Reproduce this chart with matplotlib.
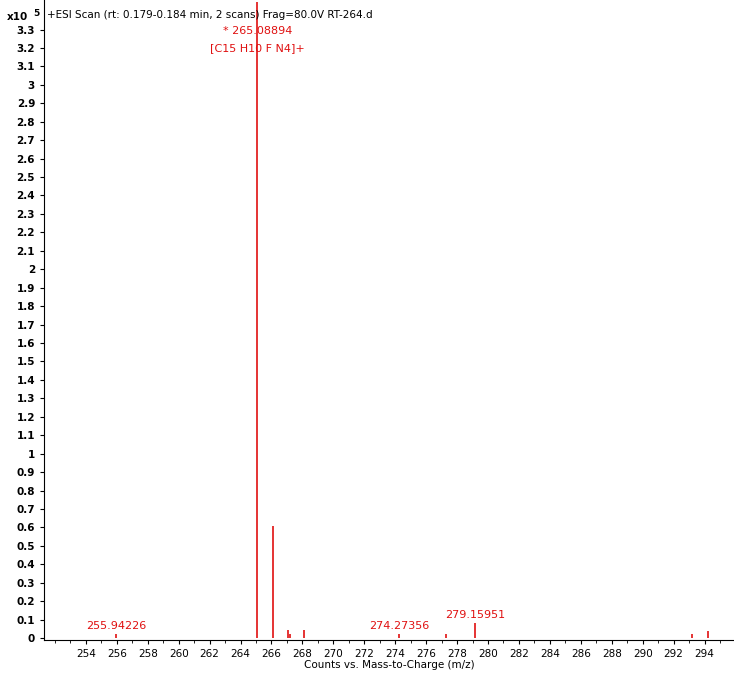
import matplotlib.pyplot as plt
import numpy as np

mz = [255.94226, 265.08894, 266.09, 267.10, 267.20, 268.12, 274.27356, 277.30, 279.15951, 293.20, 294.20]
inten = [0.02, 3.45, 0.61, 0.045, 0.02, 0.045, 0.02, 0.025, 0.08, 0.025, 0.04]
labels = {255.94226: "255.94226", 274.27356: "274.27356", 279.15951: "279.15951"}

fig = plt.figure(figsize=(7.34, 6.79), dpi=100)
ax = fig.add_axes([0.06, 0.0575, 0.94, 0.9425])
ax.vlines(mz, 0, inten, color="#e01010", lw=1.2)
for m, h in zip(mz, inten):
    if m in labels:
        ax.text(m, h + 0.02, labels[m], color="#e01010", ha="center", va="bottom", fontsize=8)
ax.text(265.08894, 3.29, "* 265.08894", color="#e01010", ha="center", va="center", fontsize=8)
ax.text(265.08894, 3.20, "[C15 H10 F N4]+", color="#e01010", ha="center", va="center", fontsize=8)

ax.set_xlim(251.3, 295.9)
ax.set_ylim(-0.01, 3.46)
ax.set_xticks(np.arange(254, 295, 2))
ax.set_xticks(np.arange(252, 296, 1), minor=True)
yt = np.round(np.arange(0, 3.35, 0.1), 1)
ax.set_yticks(yt)
ax.set_yticklabels([("%g" % v) for v in yt], fontweight="bold")
ax.tick_params(labelsize=7.5, length=3)
ax.tick_params(axis="x", which="minor", length=2)
for s in ["top", "right"]:
    ax.spines[s].set_visible(False)
ax.set_xlabel("Counts vs. Mass-to-Charge (m/z)", fontsize=7.5, labelpad=1)
fig.text(0.01, 0.975, "x10", fontsize=7.5, fontweight="bold", va="center")
fig.text(0.045, 0.98, "5", fontsize=6.5, fontweight="bold", va="center")
ax.text(251.5, 3.38, "+ESI Scan (rt: 0.179-0.184 min, 2 scans) Frag=80.0V RT-264.d", fontsize=7.5, va="center")
fig.savefig("out.png")
